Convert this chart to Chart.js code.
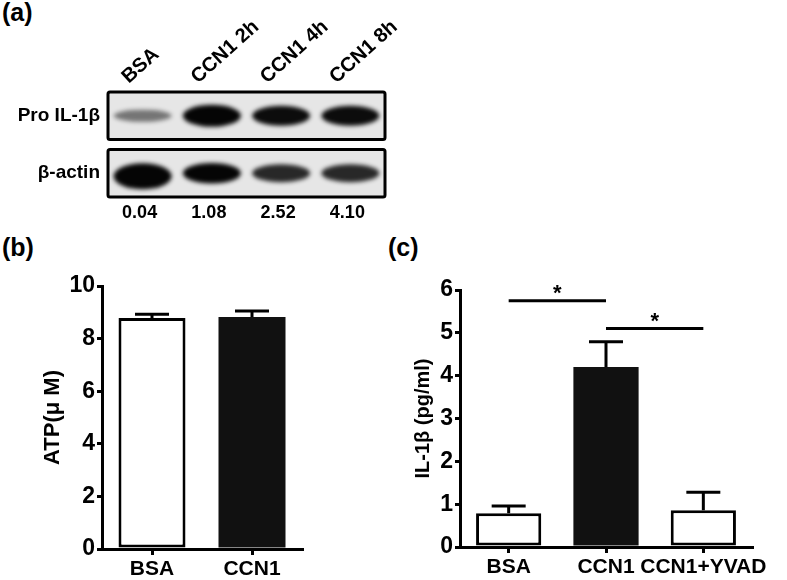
<!DOCTYPE html>
<html>
<head>
<meta charset="utf-8">
<script src="https://cdn.jsdelivr.net/npm/chart.js@4.4.1/dist/chart.umd.min.js"></script>
<style>
body { margin: 0; background: #fff; width: 787px; height: 580px; position: relative; overflow: hidden;
       font-family: "Liberation Sans", Arial, sans-serif; }
.panel { position: absolute; font-weight: bold; font-size: 25px; color: #000; }
canvas { position: absolute; }
</style>
</head>
<body>
<div class="panel" style="left:2px;top:-2px">(a)</div>
<div class="panel" style="left:2px;top:233px">(b)</div>
<div class="panel" style="left:388px;top:233px">(c)</div>
<canvas id="blot" width="787" height="232" style="left:0;top:0"></canvas>
<canvas id="atp" width="390" height="310" style="left:0;top:270px"></canvas>
<canvas id="il1b" width="397" height="310" style="left:390px;top:270px"></canvas>
<script>
// données du western blot (a)
var lanes = ['BSA', 'CCN1 2h', 'CCN1 4h', 'CCN1 8h'];
var blotRows = ['Pro IL-1β', 'β-actin'];
var proBand = [0.3, 1.0, 0.85, 0.85];      // intensité relative des bandes
var actinBand = [1.3, 0.9, 0.7, 0.7];
var ratios = ['0.04', '1.08', '2.52', '4.10'];

// (b) ATP
var atpGroups = ['BSA', 'CCN1'];
var atpMean = [8.78, 8.82];
var atpErr = [0.15, 0.23];

// (c) IL-1β
var il1bGroups = ['BSA', 'CCN1', 'CCN1+YVAD'];
var il1bMean = [0.79, 4.2, 0.86];
var il1bErr = [0.17, 0.59, 0.42];
var il1bSig = [[0, 1, 5.75], [1, 2, 5.1]];   // [groupe a, groupe b, hauteur]

var FONT = '"Liberation Sans", Arial, sans-serif';
Chart.defaults.font.family = FONT;
Chart.defaults.color = '#000';

// dessin du blot
var blotPlugin = {
    id: 'blot',
    afterDraw: function(chart) {
        var ctx = chart.ctx, area = chart.chartArea, xs = chart.scales.x;
        var gap = 10;
        var rowH = (area.bottom - area.top - gap) / 2;
        [proBand, actinBand].forEach(function(row, r) {
            var top = area.top + r * (rowH + gap);
            ctx.save();
            ctx.fillStyle = '#e6e6e6';
            ctx.fillRect(area.left, top, area.right - area.left, rowH);
            ctx.beginPath();
            ctx.rect(area.left, top, area.right - area.left, rowH);
            ctx.clip();
            row.forEach(function(v, i) {
                var cx = xs.getPixelForValue(i);
                ctx.save();
                ctx.filter = 'blur(2px)';
                ctx.fillStyle = 'rgba(5,5,5,' + Math.min(1, 0.25 + 0.85 * v) + ')';
                ctx.beginPath();
                ctx.ellipse(cx, top + rowH / 2 + (v > 1.1 ? 3 : 0), 29, 4 + 7 * v, 0, 0, Math.PI * 2);
                ctx.fill();
                ctx.restore();
            });
            ctx.restore();
            ctx.save();
            ctx.lineWidth = 3;
            ctx.strokeStyle = '#000';
            ctx.beginPath();
            ctx.roundRect(area.left, top, area.right - area.left, rowH, 2);
            ctx.stroke();
            ctx.fillStyle = '#000';
            ctx.font = 'bold 19px ' + FONT;
            ctx.textAlign = 'right';
            ctx.textBaseline = 'middle';
            ctx.fillText(blotRows[r], area.left - 8, top + rowH / 2);
            ctx.restore();
        });
        // noms des pistes, inclinés
        ctx.save();
        ctx.fillStyle = '#000';
        ctx.font = 'bold 20px ' + FONT;
        lanes.forEach(function(l, i) {
            var cx = xs.getPixelForValue(i);
            ctx.save();
            ctx.translate(cx - 14, area.top - 8);
            ctx.rotate(-42 * Math.PI / 180);
            ctx.textAlign = 'left';
            ctx.fillText(l, 0, 0);
            ctx.restore();
        });
        // ratios
        ctx.font = 'bold 18px ' + FONT;
        ctx.textAlign = 'center';
        ctx.textBaseline = 'middle';
        ratios.forEach(function(t, i) {
            ctx.fillText(t, xs.getPixelForValue(i) - 3, area.bottom + 16);
        });
        ctx.restore();
    }
};

new Chart(document.getElementById('blot'), {
    type: 'scatter',
    data: { labels: lanes, datasets: [] },
    options: {
        responsive: false,
        animation: false,
        layout: { padding: { left: 108, right: 402, top: 92, bottom: 35 } },
        scales: {
            x: { type: 'category', labels: lanes, offset: true, display: false },
            y: { min: 0, max: 2, display: false }
        },
        plugins: { legend: { display: false }, tooltip: { enabled: false } }
    },
    plugins: [blotPlugin]
});

// barres d'erreur et lignes de significativité
var errorBarPlugin = {
    id: 'errorBars',
    afterDatasetsDraw: function(chart, args, opts) {
        var ctx = chart.ctx, y = chart.scales.y;
        var meta = chart.getDatasetMeta(0);
        var vals = chart.data.datasets[0].data;
        ctx.save();
        ctx.strokeStyle = '#000';
        ctx.lineWidth = 3;
        meta.data.forEach(function(bar, i) {
            var top = y.getPixelForValue(vals[i] + opts.errors[i]);
            ctx.beginPath();
            ctx.moveTo(bar.x, bar.y);
            ctx.lineTo(bar.x, top);
            ctx.moveTo(bar.x - 17, top);
            ctx.lineTo(bar.x + 17, top);
            ctx.stroke();
        });
        (opts.sig || []).forEach(function(s) {
            var x1 = meta.data[s[0]].x, x2 = meta.data[s[1]].x, yy = y.getPixelForValue(s[2]);
            ctx.beginPath();
            ctx.moveTo(x1, yy);
            ctx.lineTo(x2, yy);
            ctx.stroke();
            ctx.fillStyle = '#000';
            ctx.font = 'bold 22px ' + FONT;
            ctx.textAlign = 'center';
            ctx.textBaseline = 'alphabetic';
            ctx.fillText('*', (x1 + x2) / 2, yy - 1);
        });
        ctx.restore();
    }
};

function makeBarChart(id, groups, means, errs, fills, yMax, step, title, cfg) {
    return new Chart(document.getElementById(id), {
        type: 'bar',
        data: {
            labels: groups,
            datasets: [{
                data: means,
                backgroundColor: fills,
                borderColor: '#000',
                // les barres noires n'ont pas besoin de contour
                borderWidth: fills.map(function(f) { return f === '#fff' ? 3 : 0; }),
                borderSkipped: false,
                barPercentage: cfg.barPct,
                categoryPercentage: 1
            }]
        },
        options: {
            responsive: false,
            animation: false,
            layout: { padding: cfg.padding },
            scales: {
                x: {
                    offset: true,
                    grid: { offset: false, drawOnChartArea: false, drawTicks: true, tickLength: 6,
                            color: '#000', tickColor: '#000', tickWidth: 3, lineWidth: 3 },
                    border: { display: true, color: '#000', width: 3 },
                    ticks: { color: '#000', padding: 2, minRotation: 0, maxRotation: 0, autoSkip: false,
                             font: { size: 21, weight: 'bold' } },
                    afterFit: function(s) { s.height = cfg.xH; }
                },
                y: {
                    min: 0,
                    max: yMax,
                    ticks: { stepSize: step, color: '#000', padding: 2, font: { size: 23, weight: 'bold' } },
                    grid: { drawOnChartArea: false, tickLength: 5, color: '#000', lineWidth: 3 },
                    border: { display: true, color: '#000', width: 3 },
                    title: { display: true, text: title, color: '#000',
                             font: { size: cfg.titleSize, weight: 'bold' },
                             padding: { top: cfg.titlePad, bottom: 0 } },
                    afterFit: function(s) { s.width = cfg.yW; }
                }
            },
            plugins: {
                legend: { display: false },
                tooltip: { enabled: false },
                errorBars: { errors: errs, sig: cfg.sig }
            }
        },
        plugins: [errorBarPlugin]
    });
}

makeBarChart('atp', atpGroups, atpMean, atpErr, ['#fff', '#111'], 10, 2, 'ATP(μ M)', {
    padding: { left: 0, top: 16, right: 88, bottom: 0 },
    yW: 102, xH: 31, titleSize: 22, titlePad: 40, barPct: 0.67, sig: []
});

makeBarChart('il1b', il1bGroups, il1bMean, il1bErr, ['#fff', '#111', '#fff'], 6, 1, 'IL-1β (pg/ml)', {
    padding: { left: 0, top: 20, right: 35, bottom: 0 },
    yW: 70, xH: 33, titleSize: 20, titlePad: 21, barPct: 0.67, sig: il1bSig
});
</script>
</body>
</html>
